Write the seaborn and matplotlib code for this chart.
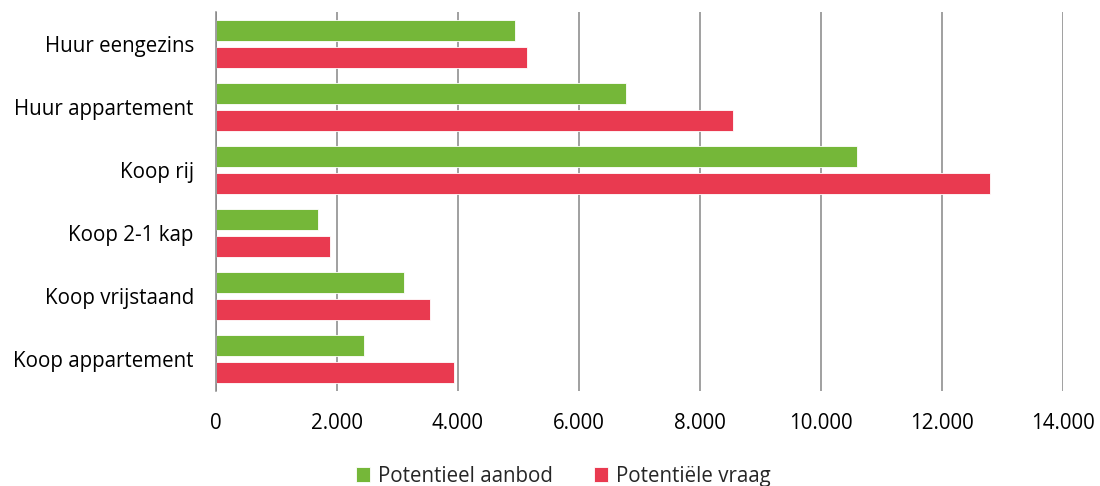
import pandas as pd
import seaborn as sns
import matplotlib.pyplot as plt
from matplotlib.ticker import FuncFormatter

# Data
categories = ['Huur eengezins', 'Huur appartement', 'Koop rij',
              'Koop 2-1 kap', 'Koop vrijstaand', 'Koop appartement']
aanbod = [4950, 6770, 10600, 1680, 3110, 2440]
vraag = [5140, 8540, 12800, 1890, 3540, 3940]
series = ['Potentieel aanbod', 'Potentiële vraag']
colors = ['#75B739', '#E93A50']

df = pd.DataFrame({
    'categorie': categories * 2,
    'waarde': aanbod + vraag,
    'reeks': [series[0]] * len(categories) + [series[1]] * len(categories),
})

sns.set_style('white')
plt.rcParams['font.family'] = ['Open Sans', 'DejaVu Sans']

fig = plt.figure(figsize=(11, 4.86), dpi=100)
ax = fig.add_axes([216 / 1100, 1 - 391 / 486, (1063 - 216) / 1100, (391 - 12) / 486])

sns.barplot(data=df, y='categorie', x='waarde', hue='reeks', orient='h',
            palette=colors, saturation=1, width=0.854, gap=0.22,
            edgecolor='white', linewidth=0.6, ax=ax, legend=True)

ax.set_xlim(0, 14000)
ax.set_xticks(range(0, 14001, 2000))
ax.xaxis.set_major_formatter(FuncFormatter(lambda v, p: f'{int(v):,}'.replace(',', '.')))
ax.set_xlabel('')
ax.set_ylabel('')
ax.grid(axis='x', color='#868686', linewidth=1.1)
ax.set_axisbelow(True)
for side in ['top', 'right', 'bottom']:
    ax.spines[side].set_visible(False)
ax.spines['left'].set_color('#868686')
ax.spines['left'].set_linewidth(1.1)
ax.tick_params(axis='x', length=0, pad=16, labelsize=14.8, colors='black')
ax.tick_params(axis='y', length=0, pad=16, labelsize=14.8, colors='black')

handles, labels = ax.get_legend_handles_labels()
ax.get_legend().remove()
fig.legend(handles, labels, loc='center', bbox_to_anchor=(563 / 1100, 0.02),
           ncol=2, frameon=False, fontsize=14.8, handlelength=0.72,
           handleheight=0.72, handletextpad=0.35, columnspacing=2.0)

fig.savefig('out.png', dpi=100)
